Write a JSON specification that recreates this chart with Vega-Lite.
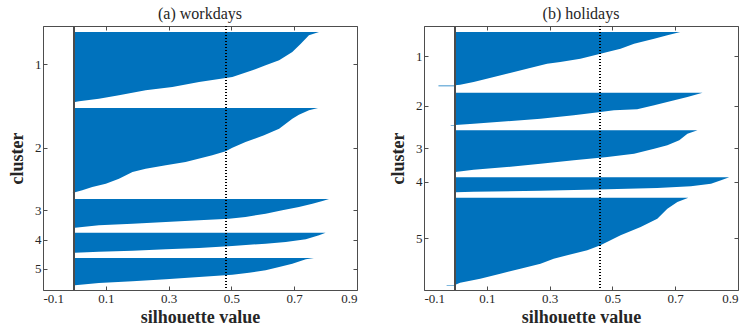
{
"$schema": "https://vega.github.io/schema/vega-lite/v6.json",
"padding": {"left": 8, "top": 5, "right": 5, "bottom": 0},
"background": "white",
"config": {
  "font": "Liberation Serif",
  "view": {"stroke": "#4d4d4d", "strokeWidth": 1},
  "axis": {"grid": false, "domain": false, "labelFont": "Liberation Serif", "titleFont": "Liberation Serif", "labelFontSize": 13, "labelColor": "#262626", "tickColor": "#4d4d4d", "tickSize": -4, "titleFontSize": 18, "titleFontWeight": "bold", "titleColor": "#262626"},
  "title": {"font": "Liberation Serif", "fontSize": 16, "fontWeight": "normal", "color": "#262626", "offset": 4}
},
"data": {"values": [
{"panel":"w","cluster":1,"idx":6,"s":0.779},{"panel":"w","cluster":1,"idx":9.3,"s":0.747},{"panel":"w","cluster":1,"idx":17.7,"s":0.721},{"panel":"w","cluster":1,"idx":26,"s":0.694},{"panel":"w","cluster":1,"idx":34.3,"s":0.652},{"panel":"w","cluster":1,"idx":39.3,"s":0.609},{"panel":"w","cluster":1,"idx":44.3,"s":0.567},{"panel":"w","cluster":1,"idx":51,"s":0.503},{"panel":"w","cluster":1,"idx":52,"s":0.482},{"panel":"w","cluster":1,"idx":56,"s":0.397},{"panel":"w","cluster":1,"idx":61,"s":0.312},{"panel":"w","cluster":1,"idx":64.3,"s":0.227},{"panel":"w","cluster":1,"idx":69.3,"s":0.142},{"panel":"w","cluster":1,"idx":72.7,"s":0.078},{"panel":"w","cluster":1,"idx":75.3,"s":0.015},{"panel":"w","cluster":1,"idx":76,"s":0.002},
{"panel":"w","cluster":2,"idx":82,"s":0.776},{"panel":"w","cluster":2,"idx":84.3,"s":0.747},{"panel":"w","cluster":2,"idx":88.7,"s":0.715},{"panel":"w","cluster":2,"idx":92.7,"s":0.694},{"panel":"w","cluster":2,"idx":102.7,"s":0.652},{"panel":"w","cluster":2,"idx":109.3,"s":0.604},{"panel":"w","cluster":2,"idx":116,"s":0.545},{"panel":"w","cluster":2,"idx":121.7,"s":0.503},{"panel":"w","cluster":2,"idx":125.3,"s":0.482},{"panel":"w","cluster":2,"idx":129.3,"s":0.439},{"panel":"w","cluster":2,"idx":136,"s":0.354},{"panel":"w","cluster":2,"idx":139.3,"s":0.291},{"panel":"w","cluster":2,"idx":142.7,"s":0.227},{"panel":"w","cluster":2,"idx":146,"s":0.185},{"panel":"w","cluster":2,"idx":152.7,"s":0.142},{"panel":"w","cluster":2,"idx":157.7,"s":0.1},{"panel":"w","cluster":2,"idx":161,"s":0.057},{"panel":"w","cluster":2,"idx":164.3,"s":0.025},{"panel":"w","cluster":2,"idx":166.3,"s":0.002},{"panel":"w","cluster":2,"idx":167,"s":-0.007},
{"panel":"w","cluster":3,"idx":173,"s":0.811},{"panel":"w","cluster":3,"idx":175,"s":0.79},{"panel":"w","cluster":3,"idx":177.7,"s":0.758},{"panel":"w","cluster":3,"idx":181,"s":0.715},{"panel":"w","cluster":3,"idx":184.3,"s":0.662},{"panel":"w","cluster":3,"idx":187.7,"s":0.609},{"panel":"w","cluster":3,"idx":191,"s":0.545},{"panel":"w","cluster":3,"idx":192.7,"s":0.492},{"panel":"w","cluster":3,"idx":194.3,"s":0.397},{"panel":"w","cluster":3,"idx":196,"s":0.291},{"panel":"w","cluster":3,"idx":197.7,"s":0.185},{"panel":"w","cluster":3,"idx":199.3,"s":0.078},{"panel":"w","cluster":3,"idx":201.7,"s":0.002},
{"panel":"w","cluster":4,"idx":206.7,"s":0.8},{"panel":"w","cluster":4,"idx":209.3,"s":0.779},{"panel":"w","cluster":4,"idx":213.3,"s":0.737},{"panel":"w","cluster":4,"idx":216,"s":0.673},{"panel":"w","cluster":4,"idx":217.7,"s":0.609},{"panel":"w","cluster":4,"idx":220,"s":0.503},{"panel":"w","cluster":4,"idx":222,"s":0.397},{"panel":"w","cluster":4,"idx":223.3,"s":0.291},{"panel":"w","cluster":4,"idx":224.7,"s":0.185},{"panel":"w","cluster":4,"idx":225.7,"s":0.078},{"panel":"w","cluster":4,"idx":226.7,"s":0.002},
{"panel":"w","cluster":5,"idx":232,"s":0.763},{"panel":"w","cluster":5,"idx":233.3,"s":0.737},{"panel":"w","cluster":5,"idx":237.7,"s":0.694},{"panel":"w","cluster":5,"idx":241,"s":0.652},{"panel":"w","cluster":5,"idx":244.3,"s":0.609},{"panel":"w","cluster":5,"idx":246.7,"s":0.556},{"panel":"w","cluster":5,"idx":248.7,"s":0.503},{"panel":"w","cluster":5,"idx":251,"s":0.397},{"panel":"w","cluster":5,"idx":253.3,"s":0.291},{"panel":"w","cluster":5,"idx":255.3,"s":0.185},{"panel":"w","cluster":5,"idx":257,"s":0.078},{"panel":"w","cluster":5,"idx":259.3,"s":0.002},
{"panel":"h","cluster":1,"idx":6,"s":0.716},{"panel":"h","cluster":1,"idx":9.3,"s":0.675},{"panel":"h","cluster":1,"idx":12.7,"s":0.633},{"panel":"h","cluster":1,"idx":17.7,"s":0.569},{"panel":"h","cluster":1,"idx":22.7,"s":0.526},{"panel":"h","cluster":1,"idx":26,"s":0.484},{"panel":"h","cluster":1,"idx":27.7,"s":0.462},{"panel":"h","cluster":1,"idx":32.7,"s":0.398},{"panel":"h","cluster":1,"idx":36,"s":0.334},{"panel":"h","cluster":1,"idx":37.7,"s":0.292},{"panel":"h","cluster":1,"idx":42.7,"s":0.228},{"panel":"h","cluster":1,"idx":47.7,"s":0.164},{"panel":"h","cluster":1,"idx":52.7,"s":0.1},{"panel":"h","cluster":1,"idx":56,"s":0.058},{"panel":"h","cluster":1,"idx":58.7,"s":0.015},{"panel":"h","cluster":1,"idx":59.3,"s":0.0},{"panel":"h","cluster":1,"idx":59.5,"s":-0.054},{"panel":"h","cluster":1,"idx":60.3,"s":-0.054},
{"panel":"h","cluster":2,"idx":66.7,"s":0.787},{"panel":"h","cluster":2,"idx":71,"s":0.739},{"panel":"h","cluster":2,"idx":74.3,"s":0.697},{"panel":"h","cluster":2,"idx":79.3,"s":0.633},{"panel":"h","cluster":2,"idx":83.3,"s":0.579},{"panel":"h","cluster":2,"idx":84.3,"s":0.505},{"panel":"h","cluster":2,"idx":86,"s":0.462},{"panel":"h","cluster":2,"idx":89.3,"s":0.377},{"panel":"h","cluster":2,"idx":92.7,"s":0.271},{"panel":"h","cluster":2,"idx":95.3,"s":0.164},{"panel":"h","cluster":2,"idx":97.7,"s":0.058},{"panel":"h","cluster":2,"idx":99,"s":0.0},{"panel":"h","cluster":2,"idx":99.2,"s":-0.015},{"panel":"h","cluster":2,"idx":99.8,"s":-0.015},
{"panel":"h","cluster":3,"idx":104.3,"s":0.771},{"panel":"h","cluster":3,"idx":107.7,"s":0.739},{"panel":"h","cluster":3,"idx":114.3,"s":0.713},{"panel":"h","cluster":3,"idx":119.3,"s":0.675},{"panel":"h","cluster":3,"idx":122.7,"s":0.633},{"panel":"h","cluster":3,"idx":127.7,"s":0.569},{"panel":"h","cluster":3,"idx":131,"s":0.484},{"panel":"h","cluster":3,"idx":134.3,"s":0.377},{"panel":"h","cluster":3,"idx":137.7,"s":0.271},{"panel":"h","cluster":3,"idx":141,"s":0.164},{"panel":"h","cluster":3,"idx":143.7,"s":0.058},{"panel":"h","cluster":3,"idx":146,"s":0.0},
{"panel":"h","cluster":4,"idx":151.3,"s":0.872},{"panel":"h","cluster":4,"idx":154.3,"s":0.846},{"panel":"h","cluster":4,"idx":157.7,"s":0.814},{"panel":"h","cluster":4,"idx":160.3,"s":0.75},{"panel":"h","cluster":4,"idx":162,"s":0.643},{"panel":"h","cluster":4,"idx":163.3,"s":0.484},{"panel":"h","cluster":4,"idx":164.7,"s":0.271},{"panel":"h","cluster":4,"idx":165.7,"s":0.058},{"panel":"h","cluster":4,"idx":166.3,"s":0.0},
{"panel":"h","cluster":5,"idx":171.7,"s":0.742},{"panel":"h","cluster":5,"idx":176,"s":0.707},{"panel":"h","cluster":5,"idx":182.7,"s":0.675},{"panel":"h","cluster":5,"idx":192.7,"s":0.643},{"panel":"h","cluster":5,"idx":201,"s":0.59},{"panel":"h","cluster":5,"idx":209.3,"s":0.526},{"panel":"h","cluster":5,"idx":219.3,"s":0.462},{"panel":"h","cluster":5,"idx":224.3,"s":0.42},{"panel":"h","cluster":5,"idx":229.3,"s":0.356},{"panel":"h","cluster":5,"idx":232.7,"s":0.313},{"panel":"h","cluster":5,"idx":237.7,"s":0.271},{"panel":"h","cluster":5,"idx":242.7,"s":0.207},{"panel":"h","cluster":5,"idx":247.7,"s":0.143},{"panel":"h","cluster":5,"idx":252.7,"s":0.079},{"panel":"h","cluster":5,"idx":256.7,"s":0.015},{"panel":"h","cluster":5,"idx":258.7,"s":0.0},{"panel":"h","cluster":5,"idx":258.9,"s":-0.028},{"panel":"h","cluster":5,"idx":259.5,"s":-0.028}
]},
"spacing": 31,
"hconcat": [
{
  "width": 314, "height": 264,
  "title": {"text": "(a) workdays"},
  "transform": [{"filter": "datum.panel == 'w'"}],
  "layer": [
    {"mark": {"type": "area", "orient": "horizontal", "color": "#0072BD", "opacity": 1},
     "encoding": {
       "y": {"field": "idx", "type": "quantitative", "scale": {"domain": [0, 264], "reverse": true, "nice": false, "zero": false},
             "axis": {"orient": "left", "title": "cluster", "values": [38.3, 121.7, 184.3, 213.7, 242.7], "labelExpr": "datum.value < 80 ? '1' : datum.value < 150 ? '2' : datum.value < 200 ? '3' : datum.value < 230 ? '4' : '5'", "labelPadding": 6, "titlePadding": 8}},
       "x": {"field": "s", "type": "quantitative", "stack": null, "scale": {"domain": [-0.1, 0.9], "nice": false, "zero": false},
             "axis": {"orient": "bottom", "title": "silhouette value", "values": [-0.1, 0.1, 0.3, 0.5, 0.7, 0.9], "labelExpr": "datum.value < 0 ? '-0.1' : format(datum.value, '.1f')", "labelPadding": 6, "titlePadding": 3}},
       "x2": {"datum": 0},
       "detail": {"field": "cluster"}
     }},
    {"mark": {"type": "rule", "color": "#4d4d4d", "strokeWidth": 1}, "encoding": {"x": {"datum": 0, "axis": null}}},
    {"mark": {"type": "rule", "color": "#000000", "strokeWidth": 1, "strokeDash": [1, 2]}, "encoding": {"x": {"datum": 0.483, "axis": null}}},
    {"mark": {"type": "point", "opacity": 0},
     "encoding": {
       "y": {"field": "idx", "type": "quantitative", "axis": {"orient": "right", "title": null, "labels": false, "values": [38.3, 121.7, 184.3, 213.7, 242.7]}},
       "x": {"field": "s", "type": "quantitative", "axis": {"orient": "top", "title": null, "labels": false, "values": [-0.1, 0.1, 0.3, 0.5, 0.7, 0.9]}}
     }}
  ],
  "resolve": {"axis": {"x": "independent", "y": "independent"}}
},
{
  "width": 314, "height": 264,
  "title": {"text": "(b) holidays"},
  "transform": [{"filter": "datum.panel == 'h'"}],
  "layer": [
    {"mark": {"type": "area", "orient": "horizontal", "color": "#0072BD", "opacity": 1},
     "encoding": {
       "y": {"field": "idx", "type": "quantitative", "scale": {"domain": [0, 264], "reverse": true, "nice": false, "zero": false},
             "axis": {"orient": "left", "title": "cluster", "values": [30.3, 79.7, 122.3, 155.7, 212], "labelExpr": "datum.value < 50 ? '1' : datum.value < 100 ? '2' : datum.value < 140 ? '3' : datum.value < 180 ? '4' : '5'", "labelPadding": 6, "titlePadding": 8}},
       "x": {"field": "s", "type": "quantitative", "stack": null, "scale": {"domain": [-0.1, 0.9], "nice": false, "zero": false},
             "axis": {"orient": "bottom", "title": "silhouette value", "values": [-0.1, 0.1, 0.3, 0.5, 0.7, 0.9], "labelExpr": "datum.value < 0 ? '-0.1' : format(datum.value, '.1f')", "labelPadding": 6, "titlePadding": 3}},
       "x2": {"datum": 0},
       "detail": {"field": "cluster"}
     }},
    {"mark": {"type": "rule", "color": "#4d4d4d", "strokeWidth": 1}, "encoding": {"x": {"datum": 0, "axis": null}}},
    {"mark": {"type": "rule", "color": "#000000", "strokeWidth": 1, "strokeDash": [1, 2]}, "encoding": {"x": {"datum": 0.46, "axis": null}}},
    {"mark": {"type": "point", "opacity": 0},
     "encoding": {
       "y": {"field": "idx", "type": "quantitative", "axis": {"orient": "right", "title": null, "labels": false, "values": [30.3, 79.7, 122.3, 155.7, 212]}},
       "x": {"field": "s", "type": "quantitative", "axis": {"orient": "top", "title": null, "labels": false, "values": [-0.1, 0.1, 0.3, 0.5, 0.7, 0.9]}}
     }}
  ],
  "resolve": {"axis": {"x": "independent", "y": "independent"}}
}
]
}
